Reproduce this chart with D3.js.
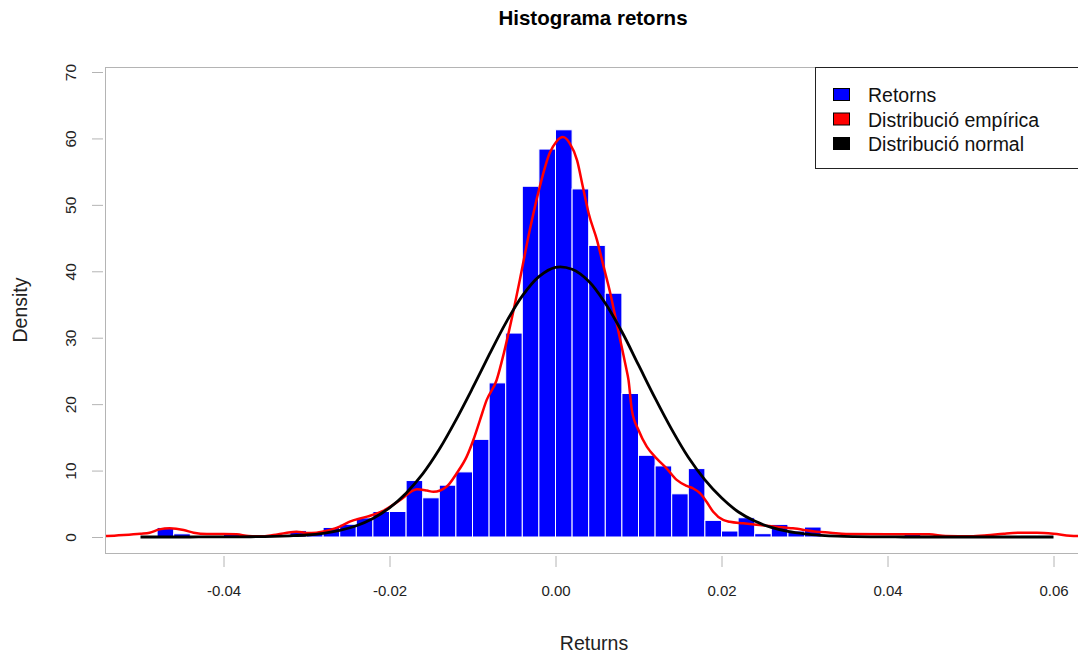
<!DOCTYPE html>
<html>
<head>
<meta charset="utf-8">
<script src="https://cdn.jsdelivr.net/npm/d3@7"></script>
<style>
  body { margin: 0; background: #fff; }
  svg { display: block; }
  text { font-family: "Liberation Sans", Arial, sans-serif; }
</style>
</head>
<body>
<svg id="chart" width="1078" height="655"></svg>
<script>
// Histogram breaks (bin edges) of the daily returns
const breaks = [
  -0.050, -0.048, -0.046, -0.044, -0.042, -0.040, -0.038, -0.036, -0.034, -0.032,
  -0.030, -0.028, -0.026, -0.024, -0.022, -0.020, -0.018, -0.016, -0.014, -0.012,
  -0.010, -0.008, -0.006, -0.004, -0.002, 0.000, 0.002, 0.004, 0.006, 0.008,
  0.010, 0.012, 0.014, 0.016, 0.018, 0.020, 0.022, 0.024, 0.026, 0.028,
  0.030, 0.032, 0.034, 0.036, 0.038, 0.040, 0.042, 0.044, 0.046, 0.048,
  0.050, 0.052, 0.054, 0.056, 0.058, 0.060
];
// Density of each bin
const binDensity = [
  0, 1.44, 0.48, 0, 0, 0.48, 0, 0, 0, 0.96,
  0.48, 1.44, 1.92, 2.88, 3.84, 3.84, 8.5, 5.9, 7.8, 9.8,
  14.7, 23.2, 30.7, 52.8, 58.4, 61.3, 52.4, 43.9, 36.7, 21.6,
  12.3, 10.7, 6.5, 10.3, 2.5, 0.9, 2.9, 0.5, 1.9, 0.9,
  1.5, 0, 0, 0, 0, 0, 0.48, 0, 0, 0,
  0, 0, 0, 0.24, 0.24
];

// Kernel density estimate of the returns
const kdeX = [
  -0.0560, -0.0540, -0.0520, -0.0500, -0.0489, -0.0477, -0.0465, -0.0448, -0.0436, -0.0420,
  -0.0400, -0.0384, -0.0370, -0.0355, -0.0340, -0.0325, -0.0312, -0.0300, -0.0288, -0.0272,
  -0.0260, -0.0248, -0.0227, -0.0207, -0.0187, -0.0167, -0.0155, -0.0147, -0.0131, -0.0119,
  -0.0107, -0.0099, -0.0091, -0.0083, -0.0071, -0.0062, -0.0053, -0.0043, -0.0031, -0.0019,
  -0.0007, 0.0001, 0.0009, 0.0017, 0.0026, 0.0033, 0.0040, 0.0050, 0.0058, 0.0066,
  0.0072, 0.0080, 0.0085, 0.0088, 0.0092, 0.0100, 0.0110, 0.0122, 0.0134, 0.0146,
  0.0158, 0.0166, 0.0174, 0.0182, 0.0190, 0.0202, 0.0210, 0.0226, 0.0246, 0.0266,
  0.0286, 0.0315, 0.0331, 0.0350, 0.0400, 0.0450, 0.0470, 0.0500, 0.0520, 0.0540,
  0.0560, 0.0580, 0.0600, 0.0620, 0.0640
];
const kdeY = [
  0.1, 0.15, 0.3, 0.5, 0.65, 1.15, 1.3, 1.05, 0.65, 0.45,
  0.45, 0.4, 0.15, 0.1, 0.3, 0.6, 0.8, 0.6, 0.65, 1.05,
  1.55, 2.3, 3.06, 3.96, 5.57, 7.2, 7.0, 6.8, 7.6, 9.6,
  12.1, 14.6, 17.6, 20.6, 23.6, 27.8, 32.7, 38.7, 46.2, 52.7,
  57.8, 59.5, 60.2, 59.3, 56.7, 52.7, 48.7, 44.7, 40.7, 36.7,
  33.2, 28.5, 25.5, 23.6, 19.1, 16.1, 13.6, 11.8, 10.3, 8.6,
  7.7, 7.3, 6.6, 5.3, 3.8, 2.56, 2.3, 2.06, 1.8, 1.55,
  1.3, 0.8, 0.65, 0.45, 0.4, 0.4, 0.15, 0.1, 0.25, 0.5,
  0.65, 0.65, 0.5, 0.2, 0.1
];

// Fitted normal density sampled across the histogram range
const normX = breaks;
const normY = [
  0, 0, 0, 0, 0.01, 0.01, 0.02, 0.05, 0.1, 0.18,
  0.3, 0.56, 1.0, 1.7, 2.8, 4.4, 6.6, 9.5, 13.2, 17.6,
  22.4, 27.4, 32.2, 36.3, 39.2, 40.6, 40.3, 38.5, 35.2, 30.9,
  25.9, 20.9, 16.2, 12.0, 8.6, 5.9, 3.8, 2.4, 1.45, 0.84,
  0.47, 0.25, 0.12, 0.06, 0.03, 0.01, 0, 0, 0, 0,
  0, 0, 0, 0, 0, 0
];

const xTicks = [-0.04, -0.02, 0.00, 0.02, 0.04, 0.06];
const yTicks = [0, 10, 20, 30, 40, 50, 60, 70];
const legendLabels = ["Retorns", "Distribució empírica", "Distribució normal"];
const legendColors = ["#0000ff", "#ff0000", "#000000"];

const svg = d3.select("#chart");
const plot = { left: 105, right: 1080, top: 67, bottom: 553 };

const x = d3.scaleLinear().domain([0, 0.02]).range([555.5, 721.5]);
const y = d3.scaleLinear().domain([0, 70]).range([537, 72]);

svg.append("rect").attr("width", 1078).attr("height", 655).attr("fill", "#fff");

svg.append("defs").append("clipPath").attr("id", "plotclip")
  .append("rect")
  .attr("x", plot.left).attr("y", plot.top)
  .attr("width", plot.right - plot.left).attr("height", plot.bottom - plot.top);

const g = svg.append("g").attr("clip-path", "url(#plotclip)");

// Histogram bars
const bins = binDensity.map((d, i) => ({ x0: breaks[i], x1: breaks[i + 1], d }));
g.selectAll("rect.bar").data(bins.filter(b => b.d > 0)).join("rect")
  .attr("class", "bar")
  .attr("x", b => x(b.x0))
  .attr("width", b => x(b.x1) - x(b.x0))
  .attr("y", b => y(b.d))
  .attr("height", b => y(0) - y(b.d))
  .attr("fill", "#0000ff")
  .attr("stroke", "#ffffff")
  .attr("stroke-width", 1);

// Empirical density (red)
const kde = kdeX.map((v, i) => [v, kdeY[i]]);
g.append("path")
  .datum(kde)
  .attr("fill", "none")
  .attr("stroke", "#ff0000")
  .attr("stroke-width", 2.5)
  .attr("stroke-linejoin", "round")
  .attr("d", d3.line().x(d => x(d[0])).y(d => y(d[1])).curve(d3.curveMonotoneX));

// Normal density (black)
const norm = normX.map((v, i) => [v, normY[i]]);
g.append("path")
  .datum(norm)
  .attr("fill", "none")
  .attr("stroke", "#000000")
  .attr("stroke-width", 2.8)
  .attr("stroke-linejoin", "round")
  .attr("d", d3.line().x(d => x(d[0])).y(d => y(d[1])).curve(d3.curveCatmullRom));

// Plot frame
svg.append("rect")
  .attr("x", plot.left + 0.5).attr("y", plot.top + 0.5)
  .attr("width", plot.right - plot.left).attr("height", plot.bottom - plot.top)
  .attr("fill", "none").attr("stroke", "#b4b4b4").attr("stroke-width", 1);

// X axis
const xAxis = d3.axisBottom(x).tickValues(xTicks).tickSize(11).tickPadding(18)
  .tickFormat(d3.format(".2f"));
const gx = svg.append("g").attr("transform", `translate(0, ${plot.bottom + 3})`).call(xAxis);
gx.select(".domain").remove();
gx.selectAll(".tick line").attr("stroke", "#b4b4b4");
gx.selectAll(".tick text").attr("font-size", 15).attr("fill", "#222")
  .text(d => d3.format(".2f")(d).replace("−", "-"));

// Y axis
const yAxis = d3.axisLeft(y).tickValues(yTicks).tickSize(11).tickFormat(d3.format("d"));
const gy = svg.append("g").attr("transform", `translate(${plot.left - 2}, 0)`).call(yAxis);
gy.select(".domain").remove();
gy.selectAll(".tick line").attr("stroke", "#b4b4b4");
gy.selectAll(".tick text")
  .attr("font-size", 15.5).attr("fill", "#222")
  .attr("x", null).attr("dy", null)
  .attr("text-anchor", "middle")
  .attr("transform", `translate(${76 - (plot.left - 2)}, 0) rotate(-90)`);

// Titles
svg.append("text").attr("x", 593).attr("y", 25).attr("text-anchor", "middle")
  .attr("font-size", 20.5).attr("font-weight", "bold").attr("fill", "#000")
  .text("Histograma retorns");
svg.append("text").attr("x", 594).attr("y", 650).attr("text-anchor", "middle")
  .attr("font-size", 19.5).attr("fill", "#222").text("Returns");
svg.append("text").attr("transform", "translate(27, 310) rotate(-90)")
  .attr("text-anchor", "middle").attr("font-size", 19.5).attr("fill", "#222").text("Density");

// Legend
const lg = svg.append("g");
lg.append("rect").attr("x", 815.5).attr("y", 67.5).attr("width", 270).attr("height", 101)
  .attr("fill", "#fff").attr("stroke", "#222").attr("stroke-width", 1);
const rowY = [95, 119.5, 144];
legendLabels.forEach((lab, i) => {
  lg.append("rect").attr("x", 833.5).attr("y", rowY[i] - 6.5).attr("width", 16).attr("height", 12)
    .attr("fill", legendColors[i]).attr("stroke", "#000").attr("stroke-width", 1);
  lg.append("text").attr("x", 868).attr("y", rowY[i] + 7).attr("font-size", 19.5)
    .attr("fill", "#111").text(lab);
});
</script>
</body>
</html>
